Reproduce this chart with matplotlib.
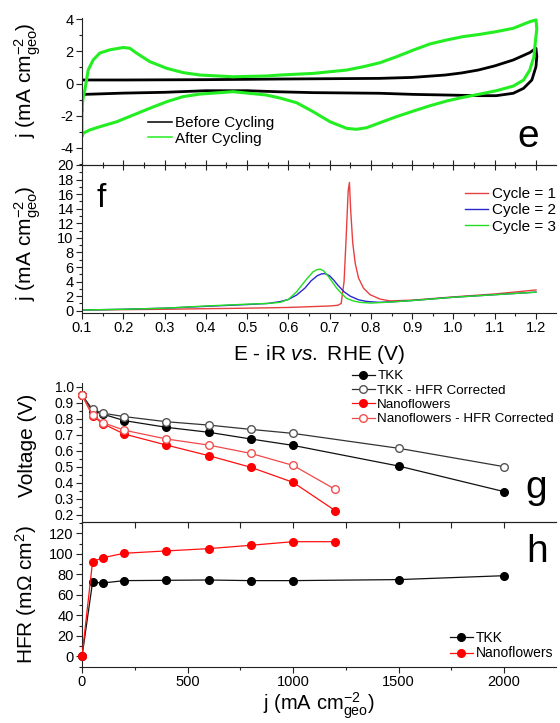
import matplotlib
matplotlib.use('Agg')
import matplotlib.pyplot as plt
from matplotlib.ticker import MultipleLocator

plt.rcParams['font.family'] = ['Liberation Sans', 'DejaVu Sans']
plt.rcParams['mathtext.fontset'] = 'custom'
plt.rcParams['mathtext.rm'] = 'Liberation Sans'
plt.rcParams['mathtext.it'] = 'Liberation Sans:italic'
plt.rcParams['mathtext.bf'] = 'Liberation Sans:bold'
plt.rcParams['axes.unicode_minus'] = False

# ---------------- panel e : CV before / after cycling ----------------
before_E = [0.10, 0.20, 0.30, 0.40, 0.50, 0.58, 0.70, 0.82, 0.90, 0.98, 1.02, 1.06, 1.10, 1.145, 1.185, 1.20,
            1.202, 1.20, 1.19, 1.17, 1.145, 1.104, 1.064, 0.984, 0.903, 0.822, 0.741, 0.66, 0.58, 0.50, 0.40,
            0.30, 0.20, 0.105, 0.10]
before_j = [0.22, 0.22, 0.23, 0.24, 0.26, 0.28, 0.30, 0.32, 0.38, 0.53, 0.66, 0.84, 1.10, 1.47, 1.93, 2.20,
            1.70, 1.05, 0.22, -0.30, -0.61, -0.76, -0.76, -0.72, -0.68, -0.61, -0.59, -0.57, -0.52, -0.45, -0.45,
            -0.55, -0.60, -0.68, -0.68]

after_E = [0.100, 0.102, 0.107, 0.115, 0.127, 0.143, 0.167, 0.20, 0.216, 0.232, 0.264, 0.305, 0.345, 0.386,
           0.466, 0.547, 0.58, 0.66, 0.741, 0.782, 0.822, 0.862, 0.903, 0.943, 0.984, 1.024, 1.064, 1.104,
           1.145, 1.185, 1.20,
           1.202, 1.199, 1.195, 1.185, 1.17, 1.145, 1.104, 1.064, 1.024, 0.984, 0.943, 0.903, 0.862, 0.822,
           0.79, 0.765, 0.741, 0.701, 0.66, 0.62, 0.58, 0.547, 0.466, 0.386, 0.345, 0.305, 0.264, 0.224,
           0.184, 0.143, 0.119, 0.103, 0.10, 0.10]
after_j = [-1.66, -1.00, -0.40, 0.84, 1.47, 1.90, 2.10, 2.25, 2.20, 1.90, 1.37, 0.95, 0.68, 0.53,
           0.42, 0.47, 0.53, 0.63, 0.84, 1.05, 1.30, 1.67, 2.09, 2.47, 2.72, 2.93, 3.07, 3.24,
           3.45, 3.86, 3.97,
           3.40, 2.72, 1.67, 0.84, 0.22, -0.16, -0.45, -0.66, -0.86, -1.09, -1.39, -1.72, -2.07, -2.45,
           -2.76, -2.86, -2.80, -2.39, -1.76, -1.20, -0.91, -0.72, -0.51, -0.66, -0.82, -1.14, -1.55, -1.97,
           -2.39, -2.70, -2.90, -3.10, -3.30, -1.66]

# ---------------- panel f : stripping cycles ----------------
c1_E = [0.10, 0.20, 0.30, 0.40, 0.50, 0.60, 0.65, 0.70, 0.72, 0.728, 0.735, 0.740, 0.745, 0.748, 0.751,
        0.756, 0.762, 0.770, 0.782, 0.798, 0.822, 0.846, 0.90, 1.00, 1.10, 1.20]
c1_j = [0.10, 0.15, 0.20, 0.28, 0.35, 0.45, 0.55, 0.65, 0.75, 1.0, 4.0, 10.0, 16.5, 17.6, 13.8,
        9.3, 6.5, 4.5, 3.1, 2.2, 1.6, 1.35, 1.45, 1.90, 2.30, 2.85]
c2_E = [0.10, 0.20, 0.30, 0.40, 0.50, 0.55, 0.58, 0.60, 0.62, 0.64, 0.655, 0.67, 0.68, 0.689, 0.70,
        0.71, 0.72, 0.735, 0.75, 0.77, 0.79, 0.82, 0.86, 0.90, 1.00, 1.10, 1.20]
c2_j = [0.10, 0.20, 0.35, 0.60, 0.85, 1.00, 1.25, 1.55, 2.15, 3.10, 4.10, 4.80, 5.05, 5.10, 4.80,
        4.20, 3.50, 2.60, 2.00, 1.50, 1.27, 1.15, 1.25, 1.40, 1.85, 2.20, 2.55]
c3_E = [0.10, 0.20, 0.30, 0.40, 0.50, 0.55, 0.58, 0.60, 0.62, 0.645, 0.66, 0.67, 0.677, 0.685, 0.697,
        0.707, 0.717, 0.73, 0.741, 0.757, 0.773, 0.80, 0.85, 0.90, 1.00, 1.10, 1.20]
c3_j = [0.10, 0.20, 0.35, 0.65, 0.90, 1.00, 1.15, 1.55, 2.60, 4.40, 5.35, 5.65, 5.70, 5.50, 4.70,
        3.90, 3.10, 2.30, 1.70, 1.35, 1.15, 1.05, 1.20, 1.40, 1.85, 2.20, 2.55]

# ---------------- panel g : polarization ----------------
tkk_j = [0, 50, 100, 200, 400, 600, 800, 1000, 1500, 2000]
tkk_V = [0.95, 0.85, 0.83, 0.79, 0.748, 0.717, 0.675, 0.635, 0.506, 0.346]
tkk_Vc = [0.95, 0.86, 0.836, 0.815, 0.783, 0.762, 0.735, 0.71, 0.617, 0.502]
nano_j = [0, 50, 100, 200, 400, 600, 800, 1000, 1200]
nano_V = [0.95, 0.82, 0.77, 0.706, 0.637, 0.571, 0.498, 0.404, 0.227]
nano_Vc = [0.95, 0.825, 0.777, 0.73, 0.675, 0.637, 0.585, 0.51, 0.36]

# ---------------- panel h : HFR ----------------
tkk_hfr = [0, 72.4, 71.7, 74.0, 74.3, 74.6, 74.0, 74.0, 75.0, 78.8]
nano_hfr = [0, 92.5, 96.4, 100.7, 103.0, 105.2, 108.5, 112.0, 112.0]

W, H = 560, 723
fig = plt.figure(figsize=(W / 100, H / 100), dpi=100)


def box(top, bottom, left=82, right=556):
    return [left / W, 1 - bottom / H, (right - left) / W, (bottom - top) / H]


def fxy(x, y):
    return (x / W, 1 - y / H)


SP = '#222222'


def style(ax, spines):
    for s in ['left', 'right', 'top', 'bottom']:
        ax.spines[s].set_visible(s in spines)
        ax.spines[s].set_linewidth(0.8)
        ax.spines[s].set_color(SP)
    ax.tick_params(which='major', length=4, width=0.8, color=SP)
    ax.tick_params(which='minor', length=2, width=0.8, color=SP)
    ax.patch.set_alpha(0)


# ---- e ----
ax_e = fig.add_axes(box(18.5, 165))
ax_e.plot(before_E, before_j, color='black', lw=2.0, label='Before Cycling')
ax_e.plot(after_E, after_j, color='#22ee22', lw=2.2, label='After Cycling')
ax_e.set_xlim(0.1, 1.2485)
ax_e.set_ylim(-5.09, 4.06)
style(ax_e, ['left', 'bottom'])
ax_e.xaxis.set_major_locator(MultipleLocator(0.1))
ax_e.xaxis.set_minor_locator(MultipleLocator(0.05))
ax_e.yaxis.set_major_locator(MultipleLocator(2))
ax_e.yaxis.set_minor_locator(MultipleLocator(1))
ax_e.tick_params(axis='x', which='major', direction='inout', length=7, labelbottom=False)
ax_e.tick_params(axis='x', which='minor', direction='inout', length=4)
ax_e.tick_params(axis='y', which='both', direction='out', labelsize=10.5, pad=2)
ax_e.set_ylabel(r'j (mA cm$^{-2}_{\mathrm{geo}}$)', fontsize=15, ha='center', va='center')
ax_e.yaxis.set_label_coords(-0.114, 0.58)
leg_e = ax_e.legend(loc='upper left', bbox_to_anchor=fxy(148, 116), bbox_transform=fig.transFigure,
                    frameon=False, fontsize=11, borderpad=0, borderaxespad=0, handlelength=1.55,
                    handletextpad=0.2, labelspacing=0.1)
for ln in leg_e.get_lines():
    ln.set_linewidth(1.1)
fig.text(*fxy(528.5, 147), 'e', fontsize=28, ha='center', va='baseline')

# ---- f ----
ax_f = fig.add_axes(box(165, 312.7))
ax_f.plot(c1_E, c1_j, color='#e84040', lw=1.0, label='Cycle = 1')
ax_f.plot(c2_E, c2_j, color='#2828d0', lw=1.0, label='Cycle = 2')
ax_f.plot(c3_E, c3_j, color='#22dd22', lw=1.0, label='Cycle = 3')
ax_f.set_xlim(0.1, 1.2485)
ax_f.set_ylim(-0.27, 20)
style(ax_f, ['left', 'bottom', 'top'])
ax_f.xaxis.set_major_locator(MultipleLocator(0.1))
ax_f.xaxis.set_minor_locator(MultipleLocator(0.05))
ax_f.yaxis.set_major_locator(MultipleLocator(2))
ax_f.yaxis.set_minor_locator(MultipleLocator(1))
ax_f.tick_params(which='both', direction='out', labelsize=10.5, pad=2)
ax_f.set_xticks([0.1, 0.2, 0.3, 0.4, 0.5, 0.6, 0.7, 0.8, 0.9, 1.0, 1.1, 1.2])
ax_f.set_xticklabels(['0.1', '0.2', '0.3', '0.4', '0.5', '0.6', '0.7', '0.8', '0.9', '1.0', '1.1', '1.2'])
ax_f.set_ylabel(r'j (mA cm$^{-2}_{\mathrm{geo}}$)', fontsize=15, ha='center', va='center')
ax_f.yaxis.set_label_coords(-0.114, 0.47)
ax_f.set_xlabel(r'E - iR $\mathit{vs.}$ RHE (V)', fontsize=15, ha='center', va='center')
ax_f.xaxis.set_label_coords(0.5, -0.286)
ax_f.legend(loc='upper left', bbox_to_anchor=fxy(465, 187), bbox_transform=fig.transFigure,
            frameon=False, fontsize=11, borderpad=0, borderaxespad=0, handlelength=1.5,
            handletextpad=0.25, labelspacing=0.15)
fig.text(*fxy(101, 207), 'f', fontsize=24, ha='center', va='baseline')

# ---- g ----
ax_g = fig.add_axes(box(383, 521.7))
ms = 5.5
ax_g.plot(tkk_j, tkk_V, '-o', color='#111111', lw=0.9, ms=ms, mfc='black', mec='black',
          clip_on=False, label='TKK', zorder=3)
ax_g.plot(tkk_j, tkk_Vc, '-o', color='#333333', lw=0.9, ms=ms, mfc='white', mec='#555555', mew=1.0,
          clip_on=False, label='TKK - HFR Corrected', zorder=3)
ax_g.plot(nano_j, nano_V, '-o', color='#ff1010', lw=0.9, ms=ms, mfc='#ff0000', mec='#ff0000',
          clip_on=False, label='Nanoflowers', zorder=3)
ax_g.plot(nano_j, nano_Vc, '-o', color='#f04848', lw=0.9, ms=ms, mfc='white', mec='#f05050', mew=1.0,
          clip_on=False, label='Nanoflowers - HFR Corrected', zorder=3)
ax_g.set_xlim(0, 2246)
ax_g.set_ylim(0.158, 1.025)
style(ax_g, ['left', 'bottom'])
ax_g.xaxis.set_major_locator(MultipleLocator(500))
ax_g.xaxis.set_minor_locator(MultipleLocator(250))
ax_g.yaxis.set_major_locator(MultipleLocator(0.1))
ax_g.yaxis.set_minor_locator(MultipleLocator(0.05))
ax_g.tick_params(axis='x', which='both', direction='out', labelbottom=False)
ax_g.tick_params(axis='x', which='minor', length=4)
ax_g.tick_params(axis='y', which='both', direction='out', labelsize=10, pad=2)
ax_g.set_ylabel('Voltage (V)', fontsize=15, ha='center', va='center')
ax_g.yaxis.set_label_coords(-0.114, 0.553)
ax_g.legend(loc='upper left', bbox_to_anchor=fxy(352, 370), bbox_transform=fig.transFigure,
            frameon=False, fontsize=9.6, borderpad=0, borderaxespad=0, handlelength=1.7,
            handletextpad=0.2, labelspacing=0.15)
fig.text(*fxy(536, 498), 'g', fontsize=28, ha='center', va='baseline')

# ---- h ----
ax_h = fig.add_axes(box(521.7, 666.7))
ax_h.plot(tkk_j, tkk_hfr, '-o', color='#111111', lw=0.9, ms=ms, mfc='black', mec='black',
          clip_on=False, label='TKK', zorder=3)
ax_h.plot(nano_j, nano_hfr, '-o', color='#ff1010', lw=0.9, ms=ms, mfc='#ff0000', mec='#ff0000',
          clip_on=False, label='Nanoflowers', zorder=3)
ax_h.set_xlim(0, 2246)
ax_h.set_ylim(-10, 131.5)
style(ax_h, ['left', 'bottom', 'top'])
ax_h.xaxis.set_major_locator(MultipleLocator(500))
ax_h.xaxis.set_minor_locator(MultipleLocator(250))
ax_h.yaxis.set_major_locator(MultipleLocator(20))
ax_h.yaxis.set_minor_locator(MultipleLocator(10))
ax_h.tick_params(which='both', direction='out', labelsize=10.5, pad=2)
ax_h.set_ylabel('HFR (mΩ cm$^{2}$)', fontsize=15, ha='center', va='center')
ax_h.yaxis.set_label_coords(-0.118, 0.494)
ax_h.set_xlabel(r'j (mA cm$^{-2}_{\mathrm{geo}}$)', fontsize=14.5, ha='center', va='center')
ax_h.xaxis.set_label_coords(0.5, -0.27)
ax_h.legend(loc='upper left', bbox_to_anchor=fxy(450, 631), bbox_transform=fig.transFigure,
            frameon=False, fontsize=10, borderpad=0, borderaxespad=0, handlelength=1.65,
            handletextpad=0.2, labelspacing=0.1)
fig.text(*fxy(537, 561.7), 'h', fontsize=28, ha='center', va='baseline')

fig.savefig('out.png', dpi=100)
